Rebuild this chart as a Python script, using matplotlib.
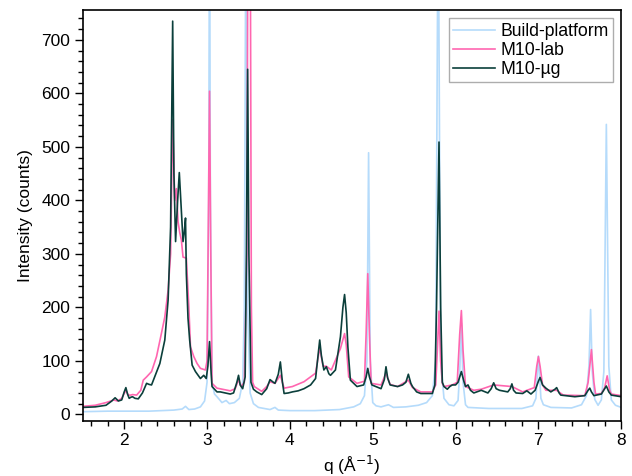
import matplotlib
matplotlib.use('Agg')
import matplotlib.pyplot as plt
from matplotlib.ticker import MultipleLocator
import numpy as np

plt.rcParams['font.family'] = ['Liberation Sans', 'DejaVu Sans']
plt.rcParams['font.size'] = 12

# Build-platform (q, counts)
bp_q = [1.5, 1.8, 2.0, 2.3, 2.6, 2.70, 2.74, 2.78, 2.85, 2.92, 2.97, 3.00, 3.02, 3.03, 3.04, 3.06, 3.09, 3.12,
        3.18, 3.23, 3.27, 3.33, 3.39, 3.43, 3.45, 3.47, 3.49, 3.52, 3.56, 3.62, 3.76, 3.82, 3.86, 4.0, 4.3, 4.6,
        4.77, 4.85, 4.90, 4.93, 4.95, 4.97, 5.00, 5.04, 5.10, 5.19, 5.25, 5.40, 5.55, 5.65, 5.72, 5.76, 5.79,
        5.82, 5.86, 5.92, 5.98, 6.03, 6.05, 6.07, 6.09, 6.12, 6.15, 6.4, 6.8, 6.93, 6.97, 7.00, 7.03, 7.06, 7.15,
        7.4, 7.52, 7.58, 7.61, 7.63, 7.65, 7.68, 7.72, 7.76, 7.79, 7.82, 7.85, 7.88, 7.93, 8.0]
bp_i = [5, 6, 6, 6, 8, 10, 15, 9, 10, 14, 25, 60, 400, 1000, 400, 60, 38, 33,
        22, 26, 20, 22, 30, 60, 200, 1000, 200, 40, 20, 13, 9, 13, 8, 7, 7, 9,
        14, 20, 35, 100, 489, 100, 22, 16, 14, 18, 13, 14, 17, 22, 35, 100, 1000,
        100, 30, 18, 16, 26, 80, 170, 60, 18, 13, 11, 11, 16, 30, 109, 30, 18, 13,
        12, 18, 35, 90, 196, 80, 28, 17, 27, 80, 542, 90, 27, 17, 13]

# M10-lab
lab_q = [1.5, 1.65, 1.78, 1.84, 1.87, 1.92, 1.97, 2.02, 2.05, 2.08, 2.10, 2.15, 2.20, 2.23, 2.27, 2.33, 2.39,
         2.45, 2.49, 2.53, 2.56, 2.585, 2.61, 2.63, 2.65, 2.67, 2.69, 2.71, 2.75, 2.78, 2.80, 2.84, 2.88, 2.92,
         2.98, 3.00, 3.015, 3.03, 3.045, 3.06, 3.12, 3.28, 3.34, 3.38, 3.41, 3.45, 3.48, 3.495, 3.52, 3.535,
         3.55, 3.57, 3.66, 3.72, 3.76, 3.82, 3.885, 3.93, 4.03, 4.17, 4.31, 4.36, 4.40, 4.44, 4.50, 4.61, 4.66,
         4.68, 4.71, 4.81, 4.90, 4.92, 4.94, 4.96, 4.98, 5.10, 5.16, 5.21, 5.30, 5.43, 5.48, 5.58, 5.72, 5.76,
         5.78, 5.80, 5.82, 5.84, 5.86, 5.96, 6.02, 6.05, 6.07, 6.09, 6.12, 6.22, 6.31, 6.46, 6.68, 6.81, 6.95,
         6.98, 7.00, 7.02, 7.05, 7.09, 7.22, 7.30, 7.56, 7.60, 7.64, 7.67, 7.69, 7.76, 7.80, 7.83, 7.86, 7.88, 8.0]
lab_i = [15, 17, 22, 25, 27, 25, 30, 45, 36, 36, 37, 36, 45, 64, 70, 80, 108,
         152, 182, 232, 300, 551, 400, 422, 360, 340, 326, 294, 292, 201, 126, 108, 95, 86,
         83, 100, 350, 604, 300, 58, 49, 44, 48, 65, 52, 60, 300, 1000, 1000, 200,
         60, 52, 43, 52, 61, 58, 73, 49, 52, 61, 77, 125, 90, 90, 83, 123, 151,
         130, 70, 58, 62, 150, 263, 150, 58, 55, 77, 56, 52, 64, 50, 42, 42, 55,
         120, 193, 100, 58, 52, 55, 60, 150, 194, 120, 52, 45, 47, 55, 52, 42, 50,
         90, 108, 90, 55, 45, 45, 36, 35, 60, 121, 60, 38, 39, 50, 72, 45, 38, 35]

# M10-µg
ug_q = [1.5, 1.65, 1.78, 1.85, 1.89, 1.93, 1.97, 2.0, 2.02, 2.04, 2.06, 2.08, 2.10, 2.13, 2.17, 2.22, 2.27,
        2.30, 2.33, 2.38, 2.43, 2.49, 2.53, 2.56, 2.585, 2.60, 2.62, 2.645, 2.665, 2.69, 2.71, 2.725, 2.74,
        2.75, 2.77, 2.79, 2.82, 2.86, 2.92, 2.96, 2.99, 3.01, 3.03, 3.05, 3.06, 3.12, 3.16, 3.28, 3.32, 3.36,
        3.38, 3.40, 3.43, 3.46, 3.475, 3.49, 3.505, 3.53, 3.56, 3.60, 3.66, 3.72, 3.76, 3.80, 3.82, 3.86,
        3.885, 3.91, 3.93, 3.98, 4.03, 4.1, 4.17, 4.25, 4.31, 4.34, 4.36, 4.38, 4.41, 4.44, 4.47, 4.49, 4.55,
        4.61, 4.64, 4.66, 4.68, 4.70, 4.73, 4.81, 4.89, 4.92, 4.94, 4.96, 4.99, 5.10, 5.14, 5.16, 5.18, 5.21,
        5.30, 5.36, 5.40, 5.43, 5.46, 5.48, 5.53, 5.58, 5.72, 5.75, 5.77, 5.80, 5.82, 5.84, 5.86, 5.90, 5.93,
        5.96, 6.0, 6.03, 6.07, 6.10, 6.12, 6.15, 6.18, 6.22, 6.31, 6.39, 6.43, 6.46, 6.49, 6.53, 6.63, 6.66,
        6.68, 6.70, 6.73, 6.81, 6.86, 6.91, 6.96, 7.00, 7.02, 7.05, 7.09, 7.15, 7.20, 7.22, 7.25, 7.27, 7.44,
        7.56, 7.60, 7.62, 7.64, 7.67, 7.76, 7.80, 7.82, 7.85, 7.88, 8.0]
ug_i = [13, 14, 17, 25, 31, 25, 27, 42, 50, 38, 30, 32, 33, 30, 29, 40, 58,
        56, 55, 75, 95, 139, 214, 350, 735, 450, 323, 400, 452, 380, 323, 340, 367,
        263, 180, 139, 92, 80, 67, 73, 67, 90, 136, 75, 52, 42, 42, 38, 40, 60,
        73, 55, 48, 70, 300, 645, 300, 60, 47, 42, 37, 48, 65, 60, 58, 75,
        98, 60, 39, 40, 42, 44, 48, 55, 67, 110, 139, 110, 83, 89, 76, 73, 83,
        145, 200, 224, 190, 126, 64, 52, 55, 70, 86, 70, 55, 48, 65, 89, 68, 55,
        52, 55, 60, 75, 58, 52, 42, 39, 39, 55, 200, 509, 200, 60, 52, 47, 52,
        55, 55, 60, 80, 62, 52, 55, 45, 40, 45, 40, 48, 59, 48, 45, 42, 48,
        57, 45, 40, 39, 44, 38, 45, 62, 69, 55, 49, 42, 47, 50, 40, 36, 33,
        35, 45, 49, 42, 35, 38, 48, 53, 42, 36, 33]

fig, ax = plt.subplots(figsize=(6.32, 4.76), dpi=100)
fig.subplots_adjust(left=0.131, right=0.983, bottom=0.116, top=0.978)

ax.plot(bp_q, bp_i, color='#b5dbfb', lw=1.2, label='Build-platform')
ax.plot(lab_q, lab_i, color='#ff66b0', lw=1.2, label='M10-lab')
ax.plot(ug_q, ug_i, color='#0b3f3b', lw=1.2, label='M10-µg')

ax.set_xlim(1.5, 8)
ax.set_ylim(-12, 755)
ax.xaxis.set_major_locator(MultipleLocator(1))
ax.xaxis.set_minor_locator(MultipleLocator(0.2))
ax.yaxis.set_major_locator(MultipleLocator(100))
ax.yaxis.set_minor_locator(MultipleLocator(20))
ax.tick_params(which='both', direction='out', top=False, right=False, labelsize=12.5)
ax.tick_params(which='major', length=6, width=1, pad=3)
ax.tick_params(which='minor', length=3.5, width=1)
for s in ax.spines.values():
    s.set_linewidth(1.2)

ax.set_xlabel('q (Å$^{-1}$)', fontsize=12.5, labelpad=4)
ax.set_ylabel('Intensity (counts)', fontsize=12.5, labelpad=6)

leg = ax.legend(loc='upper right', fancybox=False, fontsize=12.7, handlelength=2.4,
                borderpad=0.25, labelspacing=0.12, handletextpad=0.3, borderaxespad=0.45)
leg.get_frame().set_edgecolor('#999999')
leg.get_frame().set_linewidth(1.0)

fig.savefig('out.png', dpi=100)
